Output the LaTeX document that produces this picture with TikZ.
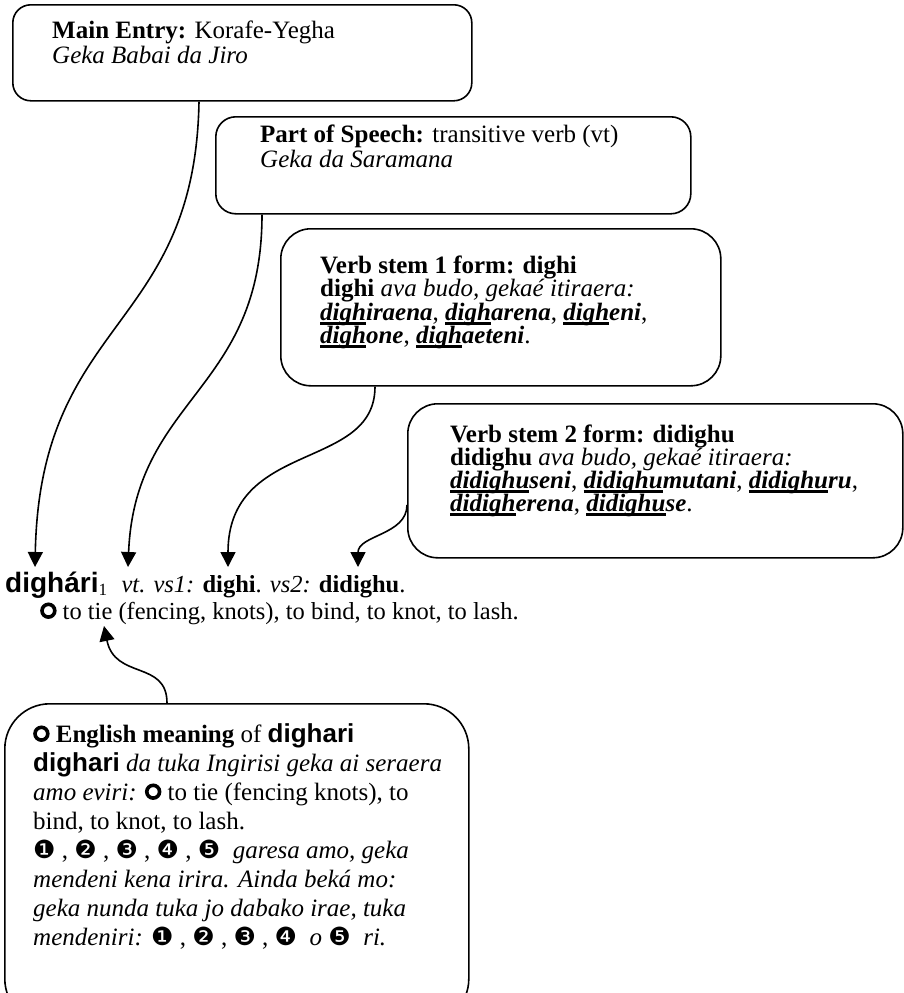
\documentclass[tikz,border=0pt]{standalone}
\usepackage{fontspec}
\setmainfont{Liberation Serif}
\newfontfamily\arialf{Liberation Sans}
\newfontfamily\djv{DejaVu Sans}
\usetikzlibrary{arrows.meta}
\newcommand\ringsym{\tikz[baseline=0pt]\draw[line width=3.6pt] (0pt,8.3pt) circle[radius=6.4pt];}
\newcommand\cn[1]{{\djv\fontsize{25}{25}\selectfont #1}}
\newcommand\myul[1]{\setbox0\hbox{#1}\rlap{\rule[-4.5pt]{\wd0}{2.4pt}}\box0}
\newcommand\bi[1]{\textbf{\textit{#1}}}
\newcommand\hwfont{\arialf\bfseries\fontsize{28}{30}\selectfont}
\newcommand\swfont{\arialf\bfseries\fontsize{26}{28}\selectfont}
\begin{document}
\begin{tikzpicture}[x=1pt,y=-1pt,
  boxframe/.style={draw, line width=1.6pt, rounded corners=#1, anchor=north west, inner sep=0pt},
  txt/.style={anchor=base west, inner sep=0pt, font=\fontsize{25}{28}\selectfont},
  conn/.style={line width=1.6pt, -{Triangle[length=15pt,width=15pt]}}]
\useasboundingbox (0,0) rectangle (903,993);
% boxes
\node[boxframe=18pt, minimum width=459pt, minimum height=96pt] (b1) at (12,4) {};
\node[boxframe=20pt, minimum width=475pt, minimum height=97pt] (b2) at (215,116) {};
\node[boxframe=30pt, minimum width=440pt, minimum height=157pt] (b3) at (280,228) {};
\node[boxframe=30pt, minimum width=495pt, minimum height=154pt] (b4) at (407,403) {};
\node[boxframe=45pt, minimum width=464pt, minimum height=320pt] (b5) at (4,703) {};
% box 1
\node[txt] (b1a) at (52,38) {\textbf{Main Entry:} Korafe-Yegha};
\node[txt] (b1b) at (52,63) {\textit{Geka Babai da Jiro}};
% box 2
\node[txt] (b2a) at (260,142) {\textbf{Part of Speech:} transitive verb (vt)};
\node[txt] (b2b) at (260,167) {\textit{Geka da Saramana}};
% box 3
\node[txt] (b3a) at (320,273) {\textbf{Verb stem 1 form: dighi}};
\node[txt] (b3b) at (320,296) {\textbf{dighi} \textit{ava budo, gekaé itiraera:}};
\node[txt] (b3c) at (320,320) {\bi{\myul{digh}iraena}, \bi{\myul{digh}arena}, \bi{\myul{digh}eni},};
\node[txt] (b3d) at (320,343) {\bi{\myul{digh}one}, \bi{\myul{digh}aeteni}.};
% box 4
\node[txt] (b4a) at (450,442) {\textbf{Verb stem 2 form: didighu}};
\node[txt] (b4b) at (450,465) {\textbf{didighu} \textit{ava budo, gekaé itiraera:}};
\node[txt] (b4c) at (450,488) {\bi{\myul{didighu}seni}, \bi{\myul{didighu}mutani}, \bi{\myul{didighu}ru},};
\node[txt] (b4d) at (450,511) {\bi{\myul{didigh}erena}, \bi{\myul{didighu}se}.};
% box 5
\node[txt] (b5a) at (33,742) {\ringsym\ \textbf{English meaning} of {\swfont dighari}};
\node[txt] (b5b) at (33,771) {{\swfont dighari} \textit{da tuka Ingirisi geka ai seraera}};
\node[txt] (b5c) at (33,800) {\textit{amo eviri:} \ringsym\ to tie (fencing knots), to};
\node[txt] (b5d) at (33,829) {bind, to knot, to lash.};
\node[txt] (b5e) at (33,858) {\cn{❶} , \cn{❷} , \cn{❸} , \cn{❹} , \cn{❺}\ \ \textit{garesa amo, geka}};
\node[txt] (b5f) at (33,887) {\textit{mendeni kena irira. Ainda beká mo:}};
\node[txt] (b5g) at (33,916) {\textit{geka nunda tuka jo dabako irae, tuka}};
\node[txt] (b5h) at (33,945) {\textit{mendeniri:} \cn{❶} , \cn{❷} , \cn{❸} , \cn{❹}\ \ \textit{o} \cn{❺}\ \ \textit{ri.}};
% headword
\node[txt, font=\fontsize{24.5}{28}\selectfont] (hw) at (5,592) {{\hwfont dighári}\textsubscript{1}\hspace{14pt}\textit{vt. vs1:} \textbf{dighi}. \textit{vs2:} \textbf{didighu}.};
\node[txt, font=\fontsize{24.5}{28}\selectfont] (sense) at (40,619) {\ringsym\ to tie (fencing, knots), to bind, to knot, to lash.};
% arrow tips
\coordinate (t1) at (35,567);
\coordinate (t2) at (128,567);
\coordinate (t3) at (228,567);
\coordinate (t4) at (358,567);
\coordinate (t5) at (104,626);
% connectors
\draw[conn] ([xshift=187pt]b1.south west) .. controls +(-4,230) and +(5,-250) .. (t1);
\draw[conn] ([xshift=47pt]b2.south west) .. controls +(0,177) and +(7,-170) .. (t2);
\draw[conn] ([xshift=95pt]b3.south west) .. controls +(0,85) and +(0,-128) .. (t3);
\draw[conn] ([yshift=-102pt]b4.north west) .. controls +(0,30) and +(0,-32) .. (t4);
\draw[conn] ([xshift=163pt]b5.north west) .. controls +(0,-43) and +(11,54) .. (t5);
\end{tikzpicture}
\end{document}
